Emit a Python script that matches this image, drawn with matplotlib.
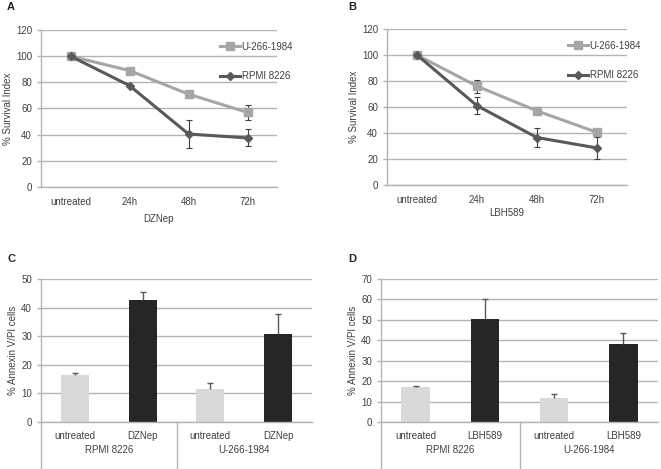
import matplotlib
matplotlib.use("Agg")
import matplotlib.pyplot as plt
import matplotlib.transforms as mtransforms
from matplotlib.lines import Line2D
import numpy as np

plt.rcParams['font.family'] = ['Liberation Sans', 'DejaVu Sans']

# ---- data ----
time_labels = ["untreated", "24h", "48h", "72h"]

a_u266 = [100, 89, 71, 57]
a_u266_err = [0, 0, 0, 6]
a_rpmi = [100, 77.5, 40.5, 37.5]
a_rpmi_err = [0, 0, 10.7, 6.5]

b_u266 = [100, 76, 57, 40.5]
b_u266_err = [0, 5, 0.8, 0]
b_rpmi = [100, 61, 36.5, 28.5]
b_rpmi_err = [0, 6.5, 7.3, 8.5]

c_groups = ["RPMI 8226", "U-266-1984"]
c_cats = ["untreated", "DZNep", "untreated", "DZNep"]
c_vals = [16.6, 42.5, 11.7, 30.8]
c_err = [0.4, 2.9, 1.8, 6.9]

d_groups = ["RPMI 8226", "U-266-1984"]
d_cats = ["untreated", "LBH589", "untreated", "LBH589"]
d_vals = [17.0, 50.3, 11.8, 38.0]
d_err = [0.5, 9.7, 1.8, 5.4]

W, H = 661, 469
fig = plt.figure(figsize=(W / 100, H / 100), dpi=100)

TXT = '#404040'
GRID = '#b3b3b3'
LIGHT = '#a6a6a6'
DARK = '#595959'
BAR_L = '#d9d9d9'
BAR_D = '#262626'
FS = 7


def add_ax(l, r, t, b):
    return fig.add_axes([l / W, 1 - b / H, (r - l) / W, (b - t) / H])


def style(ax, ymax, step):
    ax.set_ylim(0, ymax)
    ax.set_yticks(np.arange(0, ymax + 0.1, step))
    ax.yaxis.grid(True, color=GRID, lw=1)
    ax.set_axisbelow(True)
    for s in ['top', 'right']:
        ax.spines[s].set_visible(False)
    for s in ['left', 'bottom']:
        ax.spines[s].set_color(GRID)
        ax.spines[s].set_linewidth(1)
    ax.tick_params(axis='y', labelsize=FS, colors=GRID, labelcolor=TXT, length=3, width=1)
    ax.tick_params(axis='x', length=0, labelsize=FS, labelcolor=TXT)


def line_panel(l, r, t, b, u, ue, rp, rpe, xlabel, leg_xy, xlpad):
    ax = add_ax(l, r, t, b)
    x = np.arange(len(time_labels))
    style(ax, 120, 20)
    ax.set_xlim(-0.5, 3.5)
    ax.errorbar(x, u, yerr=ue, color=LIGHT, lw=2.2, marker='s', ms=6,
                ecolor='#404040', elinewidth=0.8, capsize=2, capthick=0.8,
                zorder=3)
    ax.errorbar(x, rp, yerr=rpe, color=DARK, lw=2.2, marker='D', ms=4,
                ecolor='#404040', elinewidth=0.8, capsize=2, capthick=0.8,
                zorder=4)
    ax.set_xticks(x)
    ax.set_xticklabels(time_labels)
    ax.tick_params(axis='x', pad=7)
    ax.set_xlabel(xlabel, fontsize=FS, color=TXT, labelpad=xlpad)
    ax.set_ylabel('% Survival Index', fontsize=FS, color=TXT, labelpad=2)
    handles = [Line2D([], [], color=LIGHT, lw=2.2, marker='s', ms=6),
               Line2D([], [], color=DARK, lw=2.2, marker='D', ms=4)]
    ax.legend(handles, ['U-266-1984', 'RPMI 8226'], loc='upper left',
              bbox_to_anchor=leg_xy, frameon=False,
              fontsize=FS, labelcolor=TXT, handlelength=2.0, handletextpad=0.2,
              labelspacing=2.0, borderpad=0, borderaxespad=0)
    return ax


def bar_panel(l, r, t, b, vals, err, cats, groups, ymax):
    ax = add_ax(l, r, t, b)
    x = np.arange(len(vals))
    style(ax, ymax, 10)
    ax.set_xlim(-0.5, 3.5)
    colors = [BAR_L, BAR_D, BAR_L, BAR_D]
    ax.bar(x, vals, width=0.41, color=colors, zorder=2)
    tops = np.array(vals) + np.array(err)
    ax.vlines(x, vals, tops, color='#595959', lw=1, zorder=3)
    ax.hlines(tops, x - 0.045, x + 0.045, color='#595959', lw=1, zorder=3)
    ax.set_xticks([])
    tr = mtransforms.blended_transform_factory(ax.transData, ax.transAxes)
    hpx = b - t
    for xi, c in zip(x, cats):
        ax.text(xi, -14 / hpx, c, transform=tr, ha='center', va='center',
                fontsize=FS, color=TXT)
    for gi, g in enumerate(groups):
        ax.text(gi * 2 + 0.5, -28 / hpx, g, transform=tr, ha='center', va='center',
                fontsize=FS, color=TXT)
    for xs in [-0.5, 1.5]:
        ax.plot([xs, xs], [0, -(H - b) / hpx], transform=tr, color=GRID,
                lw=1, clip_on=False)
    ax.set_ylabel('% Annexin V/PI cells', fontsize=FS, color=TXT, labelpad=2)
    return ax


line_panel(41, 277, 30, 187, a_u266, a_u266_err, a_rpmi, a_rpmi_err,
           'DZNep', (0.76, 0.925), 5)
line_panel(387, 627, 29, 185, b_u266, b_u266_err, b_rpmi, b_rpmi_err,
           'LBH589', (0.755, 0.925), 2)
bar_panel(41, 312, 279, 422, c_vals, c_err, c_cats, c_groups, 50)
bar_panel(381, 658, 279, 422, d_vals, d_err, d_cats, d_groups, 70)

for lab, px, py in [('A', 7, 7), ('B', 348, 7), ('C', 7, 259), ('D', 348, 259)]:
    fig.text(px / W, 1 - py / H, lab, fontsize=8, fontweight='bold',
             ha='left', va='center', color='#222222')

fig.savefig('out.png', dpi=100)
